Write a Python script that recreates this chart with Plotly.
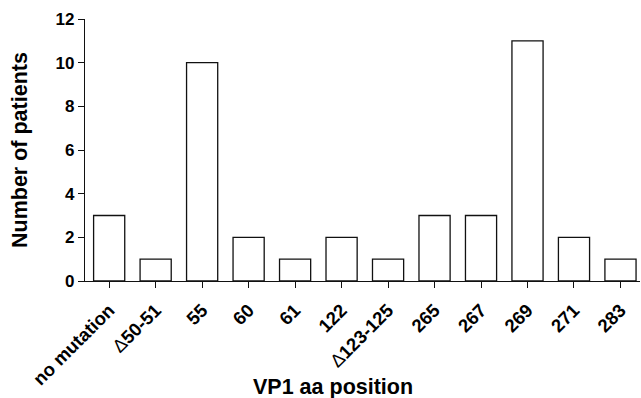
import plotly.graph_objects as go

DELTA = "<span style='font-weight:normal'>Δ</span>"
categories = ["no mutation", DELTA + "50-51", "55", "60", "61", "122", DELTA + "123-125",
              "265", "267", "269", "271", "283"]
patients = [3, 1, 10, 2, 1, 2, 1, 3, 3, 11, 2, 1]
y_ticks = [0, 2, 4, 6, 8, 10, 12]

FONT = "Arial, Liberation Sans, sans-serif"

fig = go.Figure(go.Bar(
    x=categories, y=patients, width=0.67,
    marker=dict(color="white", line=dict(color="#111111", width=1.3)),
))

fig.update_layout(
    width=641, height=398,
    margin=dict(l=85, r=1, t=19, b=117),
    plot_bgcolor="white", paper_bgcolor="white",
    showlegend=False,
    font=dict(family=FONT, color="black"),
    xaxis=dict(
        type="category", range=[-0.52, 11.42], automargin=False,
        showline=True, linecolor="#111111", linewidth=1.3,
        ticks="outside", ticklen=6, tickwidth=1.3, tickcolor="#111111",
        tickangle=-45, ticklabelstandoff=4,
        tickfont=dict(size=18.5, family=FONT, weight="bold"),
        showgrid=False, zeroline=False,
    ),
    yaxis=dict(
        range=[0, 12], tickvals=y_ticks, automargin=False,
        showline=True, linecolor="#111111", linewidth=1.3,
        ticks="outside", ticklen=6, tickwidth=1.3, tickcolor="#111111",
        tickfont=dict(size=17, family=FONT, weight="bold"),
        showgrid=False, zeroline=False,
    ),
    annotations=[
        dict(text="VP1 aa position", xref="paper", yref="paper",
             x=(333 - 85) / 555, y=(281 - 387) / 262, xanchor="center", yanchor="middle",
             showarrow=False, font=dict(size=21.5, family=FONT, weight="bold")),
        dict(text="Number of patients", xref="paper", yref="paper",
             x=(20 - 85) / 555, y=0.5, xanchor="center", yanchor="middle",
             textangle=-90, showarrow=False,
             font=dict(size=21.5, family=FONT, weight="bold")),
    ],
)

fig.write_html("out.html", config={"displayModeBar": False},
               post_script="document.body.style.margin='0';")
